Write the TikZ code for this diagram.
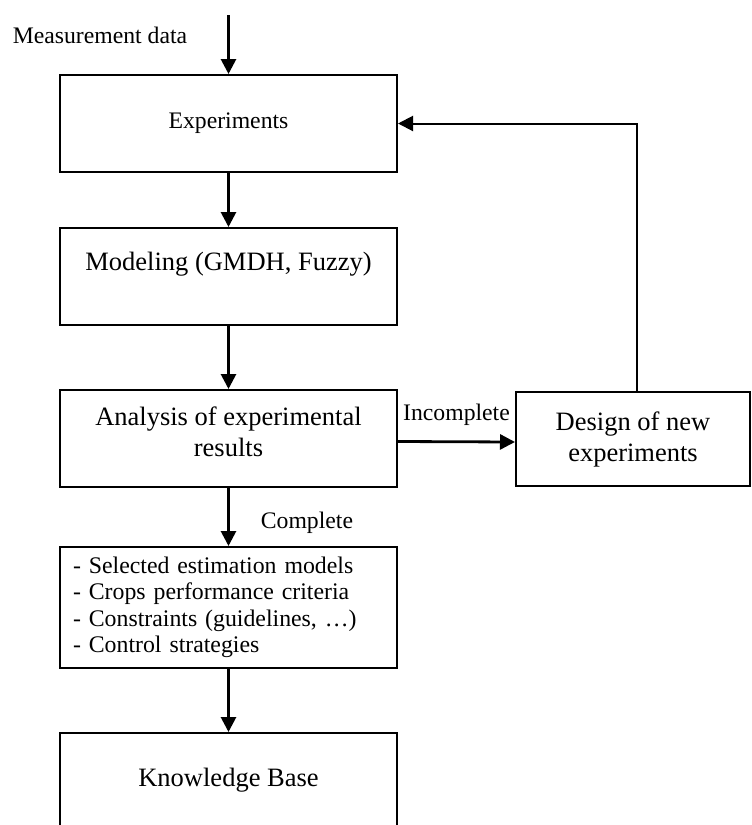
\documentclass[tikz,border=0pt]{standalone}
\usepackage{fontspec}
\setmainfont{Liberation Serif}
\usetikzlibrary{arrows.meta}

\begin{document}
\begin{tikzpicture}[x=1pt,y=-1pt,
    box/.style={draw,line width=2pt,minimum width=337pt,minimum height=97pt,
      inner sep=0pt,align=center,font=\fontsize{26.5}{31}\selectfont},
    flow/.style={line width=2.8pt,-{Triangle[length=15pt,width=15pt]}},
    lbl/.style={inner sep=1pt,font=\fontsize{23.7}{28}\selectfont}]
  \useasboundingbox (0,0) rectangle (752,825);
  \clip (0,0) rectangle (752,825);
  % nodes
  \node (meas) at (100,35) [lbl] {Measurement data};
  \coordinate (in) at (228.5,15);
  \node (exp) at (228.5,123.5) [box,font=\fontsize{23.7}{28}\selectfont] {Experiments};
  \node (model) at (228.5,276.5) [box] {Modeling (GMDH, Fuzzy)\\ ~};
  \node (anal) at (228.5,438.5) [box,text depth=14pt] {Analysis of experimental\\results};
  \node (design) at (633,439) [box,minimum width=234pt,minimum height=94pt] {Design of new\\experiments};
  \node (list) at (228.5,607.5) [box,minimum height=121pt,text width=311pt,inner xsep=13pt,
    align=left,font=\fontsize{23.8}{26.5}\selectfont]
    {- Selected estimation models\\- Crops performance criteria\\- Constraints (guidelines, …)\\- Control strategies};
  \node (kb) at (228.5,793) [box,minimum height=120pt] {Knowledge Base\\ ~};
  % main flow
  \draw[flow] (in) -- (exp.north);
  \draw[flow] (exp) -- (model);
  \draw[flow] (model) -- (anal);
  \draw[flow] (anal) -- (list)
    node[pos=0.6,right=30pt,lbl]{Complete};
  \draw[flow] (list) -- (kb);
  % loop back
  \draw[flow] ([yshift=-3pt]anal.east) -- ([yshift=-3pt]design.west)
    node[midway,above=14pt,lbl]{Incomplete};
  \draw[flow,line width=2pt] ([xshift=4pt]design.north) |- (exp.east);
\end{tikzpicture}
\end{document}
